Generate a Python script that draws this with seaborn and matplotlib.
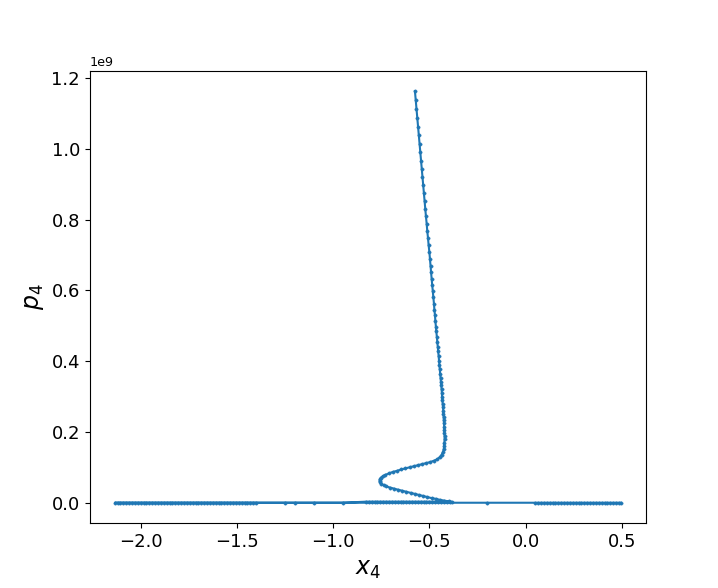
import numpy as np
import pandas as pd
import matplotlib
matplotlib.use("Agg")
import matplotlib.pyplot as plt
import seaborn as sns

# trajectory: x4 and p4 (p4 in units of 1e9)
x_fall = [-0.575, -0.571, -0.567, -0.563, -0.559, -0.555, -0.551, -0.548, -0.544, -0.540,
          -0.536, -0.533, -0.529, -0.525, -0.522, -0.518, -0.514, -0.511, -0.507, -0.504,
          -0.500, -0.497, -0.494, -0.491, -0.488, -0.485, -0.482, -0.479, -0.476, -0.474,
          -0.471, -0.469, -0.466, -0.464, -0.461, -0.459, -0.456, -0.454, -0.452, -0.450,
          -0.448, -0.446, -0.444, -0.442, -0.440, -0.438, -0.437, -0.435, -0.434, -0.432,
          -0.431, -0.429, -0.428, -0.427, -0.426, -0.425, -0.424, -0.423, -0.422, -0.422,
          -0.421, -0.421, -0.422, -0.423, -0.425]
p_fall = [1.163, 1.138, 1.112, 1.087, 1.062, 1.039, 1.014, 0.991, 0.967, 0.943,
          0.920, 0.897, 0.874, 0.852, 0.829, 0.810, 0.788, 0.768, 0.747, 0.728,
          0.708, 0.688, 0.669, 0.651, 0.631, 0.614, 0.598, 0.580, 0.561, 0.546,
          0.530, 0.514, 0.497, 0.484, 0.469, 0.455, 0.441, 0.428, 0.415, 0.401,
          0.388, 0.377, 0.365, 0.353, 0.342, 0.332, 0.320, 0.311, 0.299, 0.289,
          0.279, 0.270, 0.260, 0.251, 0.242, 0.233, 0.224, 0.215, 0.206, 0.197,
          0.188, 0.179, 0.170, 0.161, 0.152]

x_bend = [-0.429, -0.436, -0.446, -0.458, -0.475, -0.495, -0.516, -0.538, -0.560, -0.582,
          -0.603, -0.625, -0.647, -0.669, -0.690, -0.710, -0.728, -0.742, -0.752, -0.758,
          -0.759, -0.756, -0.749, -0.738, -0.723, -0.705, -0.685, -0.664, -0.642, -0.620,
          -0.598, -0.576, -0.554, -0.532, -0.510, -0.488, -0.466, -0.444, -0.422, -0.400,
          -0.380]
p_bend = [0.144, 0.136, 0.129, 0.123, 0.119, 0.115, 0.112, 0.109, 0.106, 0.103,
          0.100, 0.097, 0.094, 0.090, 0.087, 0.083, 0.079, 0.075, 0.071, 0.066,
          0.062, 0.058, 0.054, 0.050, 0.046, 0.043, 0.040, 0.037, 0.034, 0.031,
          0.028, 0.025, 0.022, 0.019, 0.016, 0.013, 0.011, 0.008, 0.006, 0.004,
          0.002]

# slightly raised return stretch under the bend
x_shelf = [-0.395, -0.41, -0.425, -0.44, -0.455, -0.47, -0.485, -0.50, -0.515, -0.53,
           -0.545, -0.56, -0.575, -0.59, -0.605, -0.62, -0.635, -0.65, -0.665, -0.68,
           -0.695, -0.71, -0.725, -0.74, -0.755, -0.77, -0.785, -0.80, -0.815, -0.83]
p_shelf = [0.003] * len(x_shelf)

# the p4 ~ 0 floor
x_floor = [-0.95, -1.10, -1.25, -1.40,
           -1.415, -1.43, -1.445, -1.46, -1.475, -1.49, -1.505, -1.52, -1.535, -1.55,
           -1.565, -1.58, -1.595, -1.61, -1.625, -1.64, -1.655, -1.67, -1.685, -1.70,
           -1.715, -1.73, -1.745, -1.76, -1.775, -1.79, -1.805, -1.82, -1.835, -1.85,
           -1.865, -1.88, -1.895, -1.91, -1.925, -1.94, -1.955, -1.97, -1.985, -2.00,
           -2.015, -2.03, -2.045, -2.06, -2.075, -2.09, -2.105, -2.12, -2.133,
           -1.20, -0.20,
           0.05, 0.065, 0.08, 0.095, 0.11, 0.125, 0.14, 0.155, 0.17, 0.185,
           0.20, 0.215, 0.23, 0.245, 0.26, 0.275, 0.29, 0.305, 0.32, 0.335,
           0.35, 0.365, 0.38, 0.395, 0.41, 0.425, 0.44, 0.455, 0.47, 0.485, 0.495]
p_floor = [0.0] * len(x_floor)

x4 = x_fall + x_bend + x_shelf + x_floor
p4 = np.array(p_fall + p_bend + p_shelf + p_floor) * 1e9
df = pd.DataFrame({"x4": x4, "p4": p4})

fig, ax = plt.subplots(figsize=(7.18, 5.88), dpi=100)
sns.lineplot(data=df, x="x4", y="p4", sort=False, estimator=None, ax=ax,
             color="#1f77b4", marker="o", markersize=2.4, markeredgewidth=0.3,
             markeredgecolor="#1f77b4", linewidth=1.5)

ax.set_xlabel("$x_4$", fontsize=17)
ax.set_ylabel("$p_4$", fontsize=17)
ax.tick_params(labelsize=13)
ax.yaxis.get_offset_text().set_fontsize(9.2)

plt.savefig("out.png", dpi=100)
